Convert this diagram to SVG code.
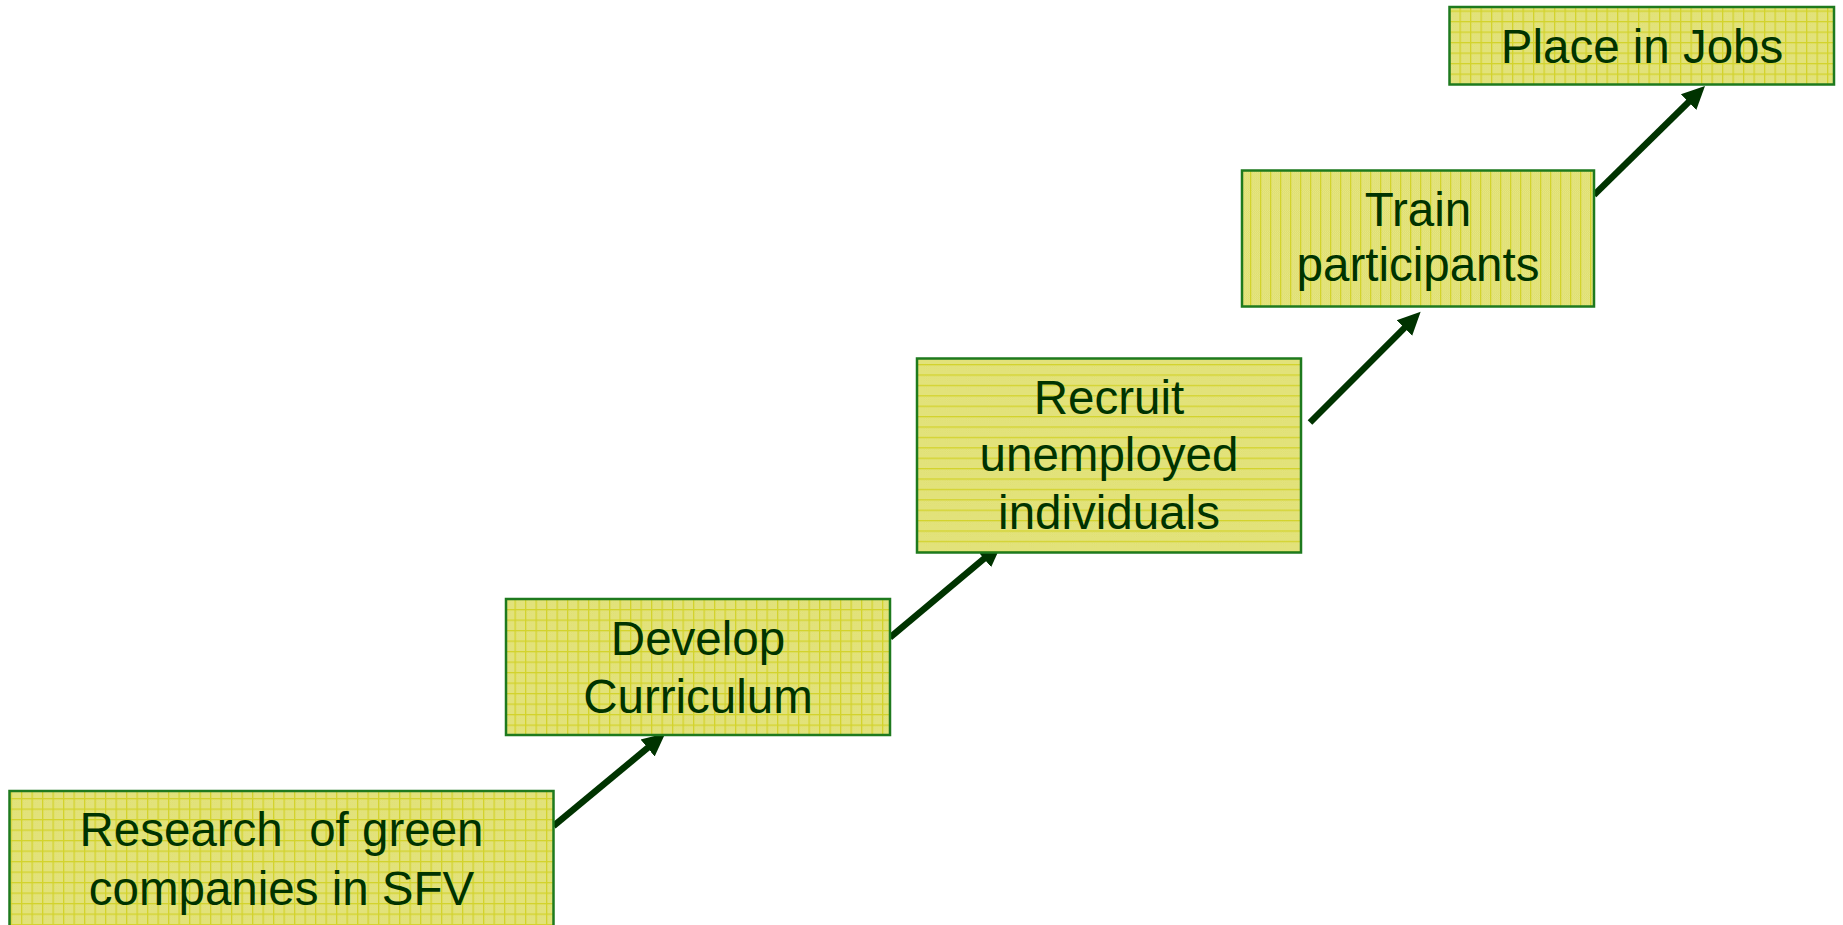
<svg xmlns="http://www.w3.org/2000/svg" width="1843" height="925" viewBox="0 0 1843 925">
<style>
.box{stroke:#1e7a1e;stroke-width:2.5}
.lbl{font-family:"Liberation Sans",Arial,sans-serif;font-size:47.5px;fill:#003300;text-anchor:middle;white-space:pre}
.arr{stroke:#003300;stroke-width:6.5;fill:none;marker-end:url(#ah)}
</style>
<defs>
<pattern id="dots" width="2" height="2" patternUnits="userSpaceOnUse">
<rect width="2" height="2" fill="#e6e688"/>
<rect width="1" height="1" fill="#dede6c"/>
<rect x="1" y="1" width="1" height="1" fill="#dede6c"/>
</pattern>
<pattern id="grid" width="10.5" height="10.5" patternUnits="userSpaceOnUse">
<rect width="10.5" height="10.5" fill="url(#dots)"/>
<rect width="1.3" height="10.5" fill="#d3d32c"/>
<rect width="10.5" height="1.3" fill="#d3d32c"/>
</pattern>
<pattern id="hlines" width="10.5" height="10.4" patternUnits="userSpaceOnUse">
<rect width="10.5" height="10.4" fill="url(#dots)"/>
<rect width="10.5" height="1.3" fill="#d3d32c"/>
</pattern>
<pattern id="vlines" width="10" height="10.5" patternUnits="userSpaceOnUse">
<rect width="10" height="10.5" fill="url(#dots)"/>
<rect width="1.3" height="10.5" fill="#d3d32c"/>
</pattern>
<marker id="ah" markerUnits="userSpaceOnUse" markerWidth="24" markerHeight="24" refX="1" refY="12" orient="auto" viewBox="0 0 24 24">
<path d="M0,1 L23,12 L0,23 Z" fill="#003300"/>
</marker>
</defs>
<g id="connectors">
<line class="arr" x1="553.5" y1="826" x2="648.4" y2="747.3"/>
<line class="arr" x1="890" y1="637.5" x2="984.8" y2="558.1"/>
<line class="arr" x1="1310" y1="422.5" x2="1405.1" y2="327.3"/>
<line class="arr" x1="1594" y1="195" x2="1689.3" y2="101.4"/>
</g>
<g id="n1">
<rect class="box" x="9.5" y="791" width="544" height="150" fill="url(#grid)"/>
<text class="lbl" x="281.5" y="846">Research  of green</text>
<text class="lbl" x="281.5" y="905">companies in SFV</text>
</g>
<g id="n2">
<rect class="box" x="506" y="599" width="384" height="136" fill="url(#grid)"/>
<text class="lbl" x="698" y="654.5">Develop</text>
<text class="lbl" x="698" y="712.5">Curriculum</text>
</g>
<g id="n3">
<rect class="box" x="917" y="358.5" width="384" height="194" fill="url(#hlines)"/>
<text class="lbl" x="1109" y="414">Recruit</text>
<text class="lbl" x="1109" y="471">unemployed</text>
<text class="lbl" x="1109" y="529">individuals</text>
</g>
<g id="n4">
<rect class="box" x="1242" y="170.5" width="352" height="136" fill="url(#vlines)"/>
<text class="lbl" x="1418" y="225.5">Train</text>
<text class="lbl" x="1418" y="281">participants</text>
</g>
<g id="n5">
<rect class="box" x="1449.5" y="7" width="384.5" height="77.5" fill="url(#grid)"/>
<text class="lbl" x="1642" y="63">Place in Jobs</text>
</g>
</svg>
